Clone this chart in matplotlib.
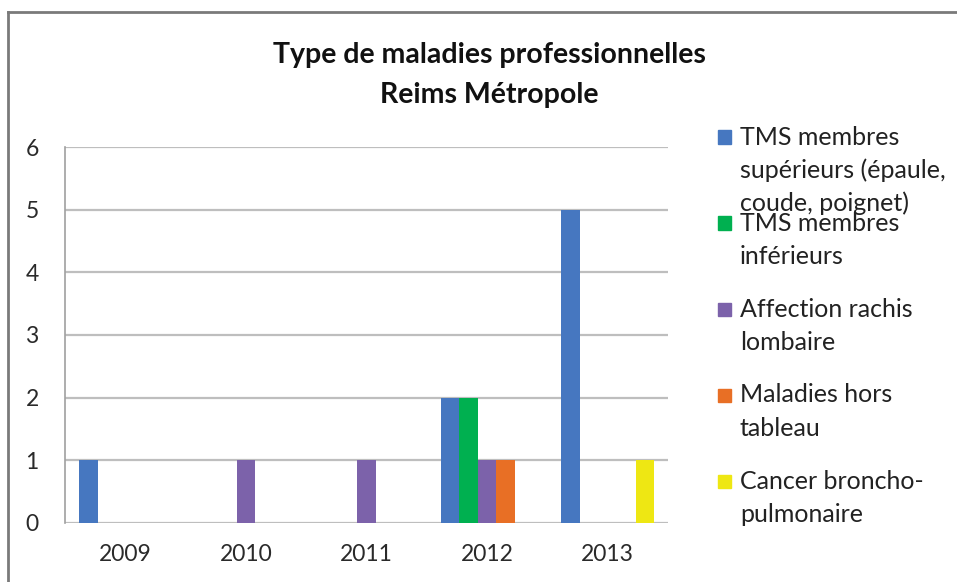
import matplotlib.pyplot as plt
import matplotlib.patches as mpatches
import numpy as np

plt.rcParams['font.family'] = ['Lato', 'DejaVu Sans']

# data
years = ["2009", "2010", "2011", "2012", "2013"]
tms_sup = [1, 0, 0, 2, 5]
tms_inf = [0, 0, 0, 2, 0]
rachis = [0, 1, 1, 1, 0]
hors_tableau = [0, 0, 0, 1, 0]
cancer = [0, 0, 0, 0, 1]

labels = ["TMS membres\nsupérieurs (épaule,\ncoude, poignet)",
          "TMS membres\ninférieurs",
          "Affection rachis\nlombaire",
          "Maladies hors\ntableau",
          "Cancer broncho-\npulmonaire"]
colors = ["#4677C0", "#00B050", "#7C62AA", "#E86F25", "#EEE713"]

series = [tms_sup, tms_inf, rachis, hors_tableau, cancer]

fig = plt.figure(figsize=(9.57, 5.82), dpi=100)
ax = fig.add_axes([0.068, 0.1014, 0.630, 0.646])

x = np.arange(len(years))
w = 1 / 6.5   # excel gap width 150%
for i, vals in enumerate(series):
    ax.bar(x + (i - 2) * w, vals, w, color=colors[i], zorder=3)

ax.set_xlim(-0.5, 4.5)
ax.set_ylim(0, 6)
ax.set_yticks(range(7))
ax.set_xticks(x)
ax.set_xticklabels(years)
ax.tick_params(length=0, labelsize=16.5, colors="#2A2A2A")
ax.tick_params(axis="y", pad=19)
ax.tick_params(axis="x", pad=15)
ax.grid(axis="y", color="#BEBEBE", lw=1.6, zorder=0)
for s in ["top", "right", "bottom"]:
    ax.spines[s].set_visible(False)
ax.spines["left"].set_color("#A0A0A0")
ax.spines["left"].set_linewidth(1.2)

fig.text(0.511, 0.905, "Type de maladies professionnelles", ha="center", va="center",
         fontsize=20.5, fontweight="bold", color="#111111")
fig.text(0.511, 0.836, "Reims Métropole", ha="center", va="center",
         fontsize=20.5, fontweight="bold", color="#111111")

# legend drawn by hand, entries overflow like in the original
y0 = 1 - 137 / 582
step = 86 / 582
line = 33 / 582
for i, lab in enumerate(labels):
    y = y0 - i * step
    fig.patches.append(mpatches.Rectangle((718 / 957, y - 6.5 / 582), 13 / 957, 13 / 582,
                                          transform=fig.transFigure, color=colors[i]))
    for j, part in enumerate(lab.split("\n")):
        fig.text(740 / 957, y - j * line, part, ha="left", va="center",
                 fontsize=18, color="#222222")

# chart area border
fig.add_artist(plt.Line2D([8 / 957, 1], [1 - 12 / 582, 1 - 12 / 582],
                          transform=fig.transFigure, color="#7A7A7A", lw=2))
fig.add_artist(plt.Line2D([8 / 957, 8 / 957], [0, 1 - 12 / 582],
                          transform=fig.transFigure, color="#7A7A7A", lw=2))

fig.savefig("out.png", dpi=100)
